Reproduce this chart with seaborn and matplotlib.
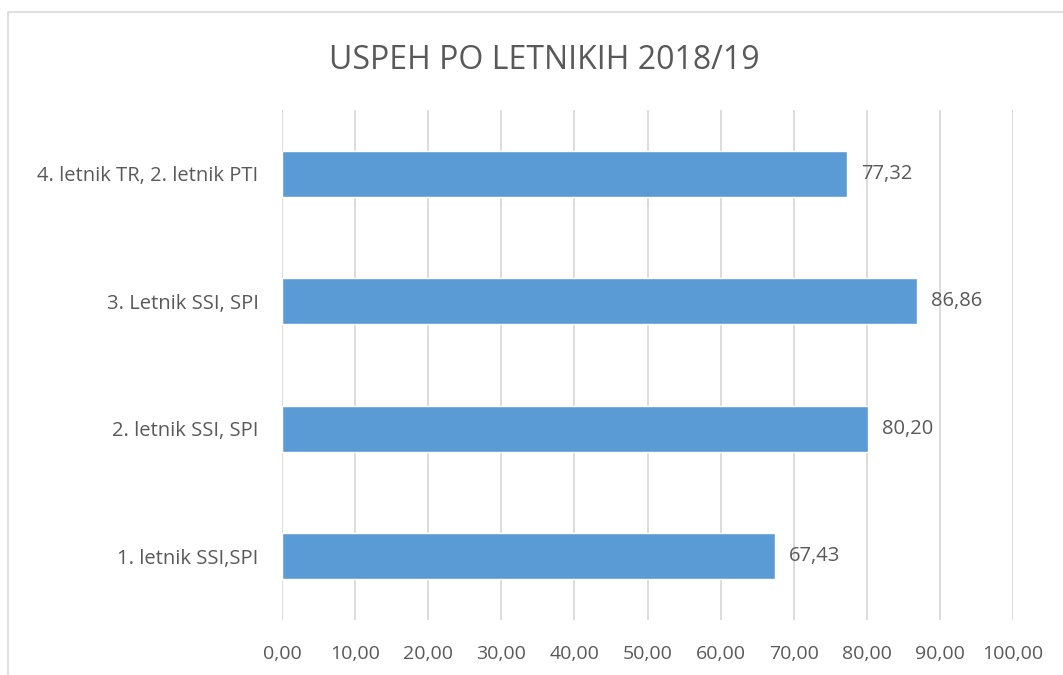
import matplotlib
matplotlib.use("Agg")
import matplotlib.pyplot as plt
import seaborn as sns
import pandas as pd
from matplotlib.ticker import FuncFormatter, MultipleLocator
from matplotlib.patches import Rectangle

# data, top to bottom as shown
letniki = ["4. letnik TR, 2. letnik PTI", "3. Letnik SSI, SPI",
           "2. letnik SSI, SPI", "1. letnik SSI,SPI"]
uspeh = [77.32, 86.86, 80.20, 67.43]

df = pd.DataFrame({"letnik": letniki, "uspeh": uspeh})

sns.set_theme(style="white")
plt.rcParams['font.family'] = ['Open Sans', 'DejaVu Sans']
txt = "#595959"

fig = plt.figure(figsize=(10.63, 6.75), dpi=100)
ax = fig.add_axes([0.2653, 0.0815, 0.6877, 0.7555])

sns.barplot(data=df, x="uspeh", y="letnik", orient="h", color="#5B9BD5",
            saturation=1, width=0.36, ax=ax)

for cont in ax.containers:
    ax.bar_label(cont, labels=[f"{v:.2f}".replace(".", ",") for v in uspeh],
                 padding=10, fontsize=14.5, color=txt)

ax.set_xlim(0, 100)
ax.set_ylim(3.5, -0.5)
ax.xaxis.set_major_locator(MultipleLocator(10))
ax.xaxis.set_major_formatter(FuncFormatter(lambda v, p: f"{v:.2f}".replace(".", ",")))
ax.grid(axis="x", color="#D9D9D9", linewidth=1.3)
ax.set_axisbelow(True)
for s in ax.spines.values():
    s.set_visible(False)
ax.set_xlabel("")
ax.set_ylabel("")
ax.tick_params(axis="x", labelsize=14, colors=txt, pad=18, length=0)
ax.tick_params(axis="y", labelsize=14.5, colors=txt, pad=17, length=0)

fig.text(0.512, 0.91, "USPEH PO LETNIKIH 2018/19", ha="center", va="center",
         fontsize=23, color=txt)

# chart border
fig.patches.append(Rectangle((8 / 1063, -0.05), 1.1, 1 - 12 / 675 + 0.05,
                             transform=fig.transFigure, fill=False,
                             edgecolor="#D9D9D9", linewidth=1.2))

fig.savefig("out.png", dpi=100)
